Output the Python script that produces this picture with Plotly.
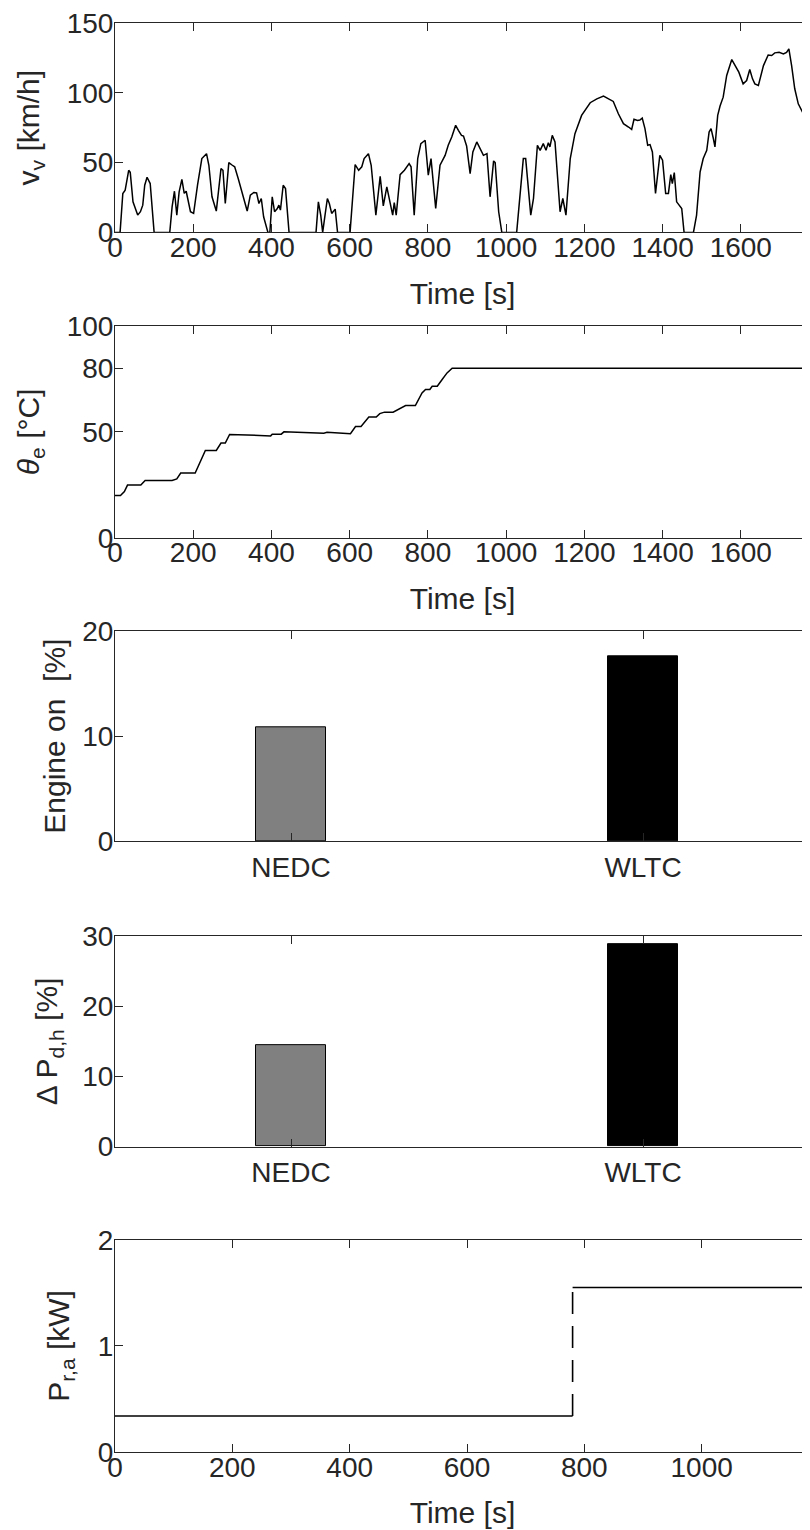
import plotly.graph_objects as go
from plotly.subplots import make_subplots

# vehicle speed over the WLTC
wltc_t = [0, 13, 20, 26, 35, 39, 46, 52, 58, 65,
          71, 76, 82, 90, 100, 140, 146, 152, 158, 164,
          171, 177, 182, 193, 201, 211, 222, 234, 240, 248,
          259, 271, 276, 282, 291, 300, 306, 315, 328, 338,
          346, 355, 362, 368, 374, 380, 391, 396, 402, 408,
          415, 419, 423, 430, 436, 445, 514, 520, 526, 531,
          537, 543, 548, 554, 563, 569, 601, 614, 623, 631,
          637, 648, 655, 667, 678, 686, 695, 704, 710, 714,
          719, 729, 740, 752, 757, 765, 774, 782, 793, 801,
          808, 820, 831, 844, 852, 861, 871, 878, 886, 891,
          899, 908, 915, 925, 934, 942, 951, 959, 968, 972,
          981, 989, 1027, 1036, 1044, 1050, 1063, 1070, 1080, 1087,
          1095, 1102, 1108, 1112, 1118, 1125, 1134, 1138, 1145, 1153,
          1164, 1176, 1193, 1215, 1232, 1249, 1262, 1274, 1287, 1300,
          1313, 1321, 1327, 1336, 1342, 1348, 1355, 1362, 1368, 1374,
          1382, 1393, 1400, 1408, 1415, 1421, 1425, 1430, 1436, 1443,
          1449, 1455, 1479, 1487, 1496, 1504, 1513, 1519, 1524, 1530,
          1534, 1541, 1547, 1555, 1564, 1577, 1585, 1595, 1606, 1615,
          1623, 1630, 1636, 1645, 1658, 1670, 1679, 1687, 1698, 1709,
          1717, 1723, 1730, 1738, 1747, 1760, 1768, 1777, 1787, 1795,
          1800]
wltc_v = [0, 0, 27.9, 30.2, 44.5, 43, 21.9, 17.1, 12.4, 14.8,
          19.5, 33.8, 39.5, 35, 0, 0, 18.3, 29.5, 12.4, 29,
          38, 28, 29.5, 14.8, 13.6, 33.8, 52.9, 56.4, 48.1, 25.5,
          15.3, 45.7, 44.5, 20.7, 50, 48.1, 47, 38.6, 25.5, 15.3,
          26.7, 28.6, 28.3, 20.7, 24.3, 11.2, 0, 0, 25.5, 14.8,
          17.1, 19.5, 16, 33.8, 31.4, 0, 0, 21.9, 12.4, 0,
          12.4, 24.3, 20.7, 13.6, 16.7, 0, 0, 48.6, 44.5, 47,
          52.9, 56.4, 48.1, 12.4, 40.2, 19, 32.6, 20.7, 12.4, 21.4,
          12.4, 41.4, 44.5, 49.3, 47, 12.4, 52.9, 63.6, 66, 41,
          52.9, 17.1, 48.1, 55.2, 62.4, 68.3, 76.7, 73.1, 69.5, 69,
          61.9, 42.1, 57.6, 64.8, 59.5, 55.2, 56.4, 25.5, 51.2, 50,
          14.8, 0, 0, 29, 52.9, 52.9, 12.4, 24.3, 62.4, 58.8,
          63.6, 58.8, 64.3, 61.2, 69.5, 64.8, 33.8, 14.8, 24.3, 12.4,
          52.9, 70.7, 83.8, 92.9, 95.7, 97.6, 95.7, 93.8, 85, 77.9,
          75.5, 73.8, 81, 80.2, 80.5, 81.9, 74.3, 62.4, 62.9, 57.6,
          27.9, 55.2, 51.7, 27.9, 27.9, 41.4, 35, 42.9, 21.9, 19.5,
          17.1, 0, 0, 12.4, 43.3, 52.9, 58.8, 71.9, 74.3, 67.1,
          61.2, 83.8, 90.5, 96.9, 112.4, 123.8, 119.5, 114.8, 106.4, 108.8,
          116.7, 110, 106.4, 105.2, 119.5, 127.1, 126.7, 128.6, 129, 127.9,
          129, 131.4, 119.5, 102.9, 92.1, 85, 79, 52.9, 25, 6,
          0]

# engine temperature
theta_t = [0, 14, 24, 32, 66, 77, 146, 158, 168, 205,
           231, 259, 271, 282, 293, 398, 402, 425, 432, 534,
           542, 602, 615, 629, 649, 668, 677, 689, 711, 730,
           743, 768, 785, 794, 805, 811, 824, 836, 849, 862,
           1800]
theta_e = [20, 20, 21.8, 24.9, 24.9, 27.1, 27.1, 27.8, 30.6, 30.6,
           41.2, 41.2, 44.7, 44.7, 48.8, 48.1, 48.9, 48.9, 50, 49.4,
           49.8, 49.1, 52.5, 52.5, 57, 57, 58.6, 59.3, 59.3, 61.3,
           62.4, 62.4, 68.4, 70, 70, 71.5, 71.5, 74.6, 77.8, 80,
           80]

cycles = ['NEDC', 'WLTC']
engine_on = [10.8, 17.65]
dp_dh = [14.5, 28.9]
bar_colors = ['#808080', '#000000']

# recovered power over the NEDC (one step)
nedc_t = [0, 780, 1180]
p_ra = [0.34, 1.55, 1.55]

assert len(wltc_t) == len(wltc_v)
assert len(theta_t) == len(theta_e)

OFF = 8  # the page body margin shifts the figure by 8px
W, H = 810 - OFF, 1530 - OFF
ML, MT, MB = 115 - OFF, 19 - OFF, 78
vis = (810 - 115) / (819 - 115)  # right part of every panel is cut off

fig = make_subplots(rows=5, cols=1)

blk = dict(color='black', width=1.5)
fig.add_trace(go.Scatter(x=wltc_t, y=wltc_v, mode='lines', line=blk), row=1, col=1)
fig.add_trace(go.Scatter(x=theta_t, y=theta_e, mode='lines', line=blk), row=2, col=1)
fig.add_trace(go.Bar(x=cycles, y=engine_on, width=0.2, marker_color=bar_colors,
                     marker_line=dict(color='black', width=1)), row=3, col=1)
fig.add_trace(go.Bar(x=cycles, y=dp_dh, width=0.2, marker_color=bar_colors,
                     marker_line=dict(color='black', width=1)), row=4, col=1)
# flat parts solid, the jump looks dashed in the original
fig.add_trace(go.Scatter(x=nedc_t[:2], y=[p_ra[0], p_ra[0]], mode='lines', line=blk),
              row=5, col=1)
fig.add_trace(go.Scatter(x=[nedc_t[1], nedc_t[1]], y=p_ra[:2], mode='lines',
                         line=dict(color='black', width=1.6, dash='22px,12px')), row=5, col=1)
fig.add_trace(go.Scatter(x=nedc_t[1:], y=p_ra[1:], mode='lines', line=blk), row=5, col=1)

# panel tops/bottoms in px of the reference page
panels = [(19, 229), (322.7, 535.3), (629, 839.3), (934.7, 1145.7), (1239.3, 1452)]
ph = H - MT - MB

txt = '#262626'
base = dict(showline=True, linecolor=txt, linewidth=1, ticks='inside', ticklen=8,
            tickcolor=txt, showgrid=False, zeroline=False, ticklabeloverflow='allow',
            tickfont=dict(size=28, color=txt))

for i, (top, bot) in enumerate(panels, start=1):
    top, bot = top - OFF, bot - OFF
    fig.update_yaxes(base, ticklabelstandoff=-5,
                     domain=[(H - MB - bot) / ph, (H - MB - top) / ph], row=i, col=1)
    fig.update_xaxes(base, mirror='ticks', row=i, col=1)

ytitle = lambda s, so: dict(text=s, font=dict(size=30, color=txt), standoff=so)
xtitle = dict(text='Time [s]', font=dict(size=30, color=txt), standoff=20)

fig.update_xaxes(range=[0, 1800 * vis], tickvals=list(range(0, 1801, 200)),
                 ticklabelstandoff=-10, title=xtitle, row=1, col=1)
fig.update_yaxes(range=[0, 150], tickvals=[0, 50, 100, 150],
                 title=ytitle('v<sub>v</sub> [km/h]', 18), row=1, col=1)

fig.update_xaxes(range=[0, 1800 * vis], tickvals=list(range(0, 1801, 200)),
                 ticklabelstandoff=-10, title=xtitle, row=2, col=1)
fig.update_yaxes(range=[0, 100], tickvals=[0, 50, 80, 100],
                 title=ytitle('<i>θ</i><sub>e</sub> [°C]', 18), row=2, col=1)

fig.update_xaxes(range=[-0.5, -0.5 + 2 * vis], ticklabelstandoff=1, row=3, col=1)
fig.update_yaxes(range=[0, 20], tickvals=[0, 10, 20],
                 title=ytitle('Engine on  [%]', 7), row=3, col=1)

fig.update_xaxes(range=[-0.5, -0.5 + 2 * vis], ticklabelstandoff=1, row=4, col=1)
fig.update_yaxes(range=[0, 30], tickvals=[0, 10, 20, 30],
                 title=ytitle('Δ P<sub>d,h</sub> [%]', 15), row=4, col=1)

fig.update_xaxes(range=[0, 1200 * vis], tickvals=list(range(0, 1201, 200)),
                 ticklabelstandoff=-10, title=xtitle, row=5, col=1)
fig.update_yaxes(range=[0, 2], tickvals=[0, 1, 2],
                 title=ytitle('P<sub>r,a</sub> [kW]', 19), row=5, col=1)

fig.update_layout(
    width=W, height=H,
    margin=dict(l=ML, r=0, t=MT, b=MB),
    paper_bgcolor='white', plot_bgcolor='white',
    showlegend=False, bargap=0,
    font=dict(family='Liberation Sans, Arial, sans-serif', size=28, color=txt),
)

fig.write_html('out.html')
